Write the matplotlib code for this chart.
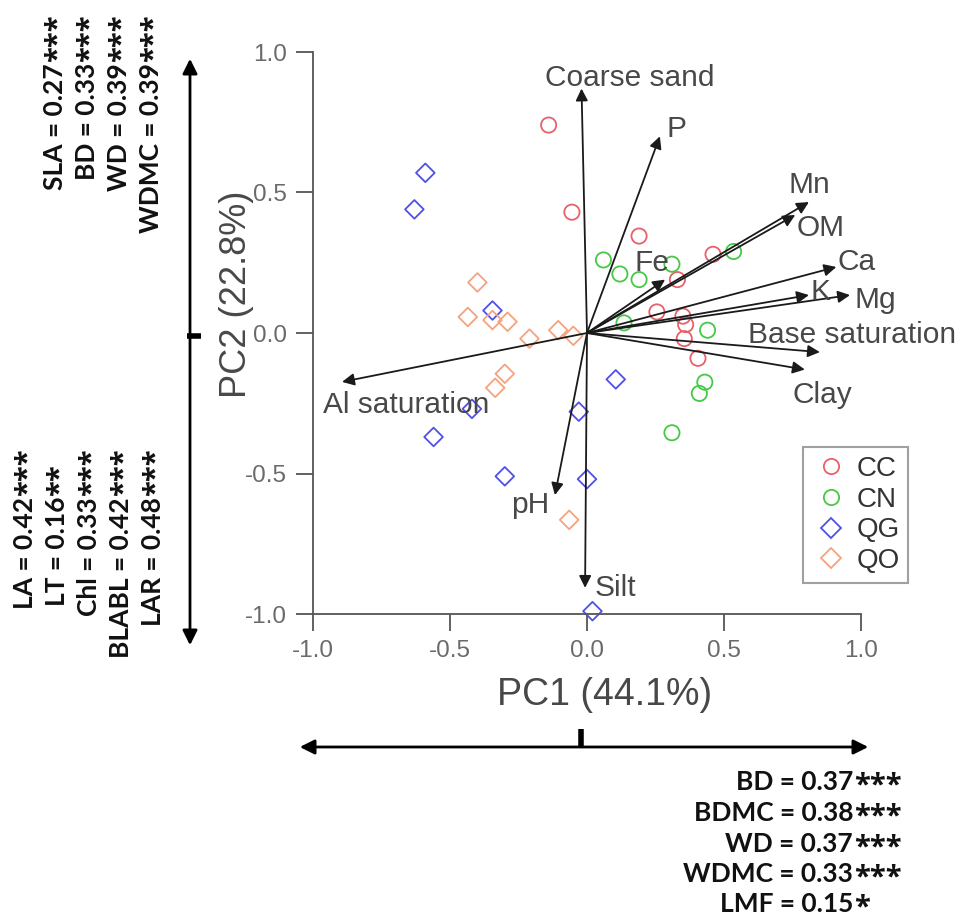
import matplotlib
matplotlib.use("Agg")
import matplotlib.pyplot as plt
from matplotlib.lines import Line2D
from matplotlib.patches import FancyArrowPatch

# ---------------- data ----------------
groups = ["CC", "CN", "QG", "QO"]
cc_x = [-0.14, -0.055, 0.19, 0.46, 0.33, 0.255, 0.35, 0.36, 0.355, 0.405]
cc_y = [0.74, 0.43, 0.345, 0.28, 0.19, 0.075, 0.06, 0.03, -0.02, -0.09]
cn_x = [0.06, 0.12, 0.19, 0.31, 0.535, 0.135, 0.44, 0.43, 0.41, 0.31]
cn_y = [0.26, 0.21, 0.19, 0.245, 0.29, 0.036, 0.01, -0.175, -0.215, -0.355]
qg_x = [-0.59, -0.63, -0.345, 0.105, -0.03, -0.42, -0.56, -0.30, 0.0, 0.02]
qg_y = [0.57, 0.44, 0.08, -0.165, -0.28, -0.27, -0.37, -0.51, -0.52, -0.99]
qo_x = [-0.40, -0.435, -0.345, -0.29, -0.21, -0.105, -0.05, -0.30, -0.335, -0.065]
qo_y = [0.18, 0.057, 0.046, 0.04, -0.02, 0.01, -0.01, -0.145, -0.195, -0.665]

vars_names = ["Coarse sand", "P", "Mn", "OM", "Ca", "K", "Mg",
              "Base saturation", "Clay", "Al saturation", "pH", "Silt", "Fe"]
vars_x = [-0.02, 0.266, 0.81, 0.76, 0.91, 0.81, 0.96, 0.85, 0.795, -0.894, -0.117, -0.007, 0.285]
vars_y = [0.87, 0.70, 0.466, 0.42, 0.235, 0.135, 0.135, -0.068, -0.13, -0.174, -0.577, -0.907, 0.19]

pc1_label = "PC1 (44.1%)"
pc2_label = "PC2 (22.8%)"
ticks = [-1.0, -0.5, 0.0, 0.5, 1.0]

top_traits = ["SLA", "BD", "WD", "WDMC"]
top_r = [0.27, 0.33, 0.39, 0.39]
top_sig = ["***", "***", "***", "***"]

low_traits = ["LA", "LT", "Chl", "BLABL", "LAR"]
low_r = [0.42, 0.16, 0.33, 0.42, 0.48]
low_sig = ["***", "**", "***", "***", "***"]

pc1_traits = ["BD", "BDMC", "WD", "WDMC", "LMF"]
pc1_r = [0.37, 0.38, 0.37, 0.33, 0.15]
pc1_sig = ["***", "***", "***", "***", "*"]

# ---------------- layout / style ----------------
W, H = 964, 922
fig = plt.figure(figsize=(W / 100, H / 100), dpi=100)
ax = fig.add_axes([313 / W, 1 - 614 / H, (861 - 313) / W, (614 - 52) / H])

plain = ["Liberation Sans", "DejaVu Sans"]
boldf = ["Lato", "DejaVu Sans"]
starf = ["Open Sans", "DejaVu Sans"]
gray_txt = "#484848"
axis_col = "#555555"

ax.set_xlim(-1, 1)
ax.set_ylim(-1, 1)
for s in ["top", "right"]:
    ax.spines[s].set_visible(False)
for s in ["left", "bottom"]:
    ax.spines[s].set_color(axis_col)
    ax.spines[s].set_linewidth(1.3)
ax.set_xticks(ticks)
ax.set_yticks(ticks)
ax.set_xticklabels([f"{t:.1f}" for t in ticks], fontfamily=plain, fontsize=17.5, color="#6a6a6a")
ax.set_yticklabels([f"{t:.1f}" for t in ticks], fontfamily=plain, fontsize=17.5, color="#6a6a6a")
ax.tick_params(direction="out", length=12, width=1.3, color=axis_col, pad=7)
ax.patch.set_alpha(0)

colors = {"CC": "#e8606a", "CN": "#45c945", "QG": "#5050e6", "QO": "#f5a37f"}
series = {"CC": (cc_x, cc_y, "o", 120), "CN": (cn_x, cn_y, "o", 120),
          "QG": (qg_x, qg_y, "D", 90), "QO": (qo_x, qo_y, "D", 90)}

# arrows
label_offsets = {"Coarse sand": (48, 11), "P": (17, 7), "Mn": (0, 17), "OM": (25, -13),
                 "Ca": (20, 5), "K": (12, 3), "Mg": (25, -5), "Base saturation": (32, 17),
                 "Clay": (18, -25), "Al saturation": (64, -23), "pH": (-25, -10),
                 "Silt": (30, 0), "Fe": (-13, 17)}
for name, vx, vy in zip(vars_names, vars_x, vars_y):
    ax.annotate("", xy=(vx, vy), xytext=(0, 0),
                arrowprops=dict(arrowstyle="-|>", color="#1a1a1a", lw=1.3,
                                shrinkA=0, shrinkB=0, mutation_scale=18),
                annotation_clip=False, zorder=3)
    ox, oy = label_offsets[name]
    ax.annotate(name, xy=(vx, vy), xytext=(ox, oy), textcoords="offset pixels",
                ha="center", va="center", fontfamily=plain, fontsize=21.5,
                color=gray_txt, annotation_clip=False, zorder=4)

for g in groups:
    xs, ys, m, s = series[g]
    ax.scatter(xs, ys, marker=m, s=s, facecolors="none", edgecolors=colors[g],
               linewidths=1.3, clip_on=False, zorder=2)

handles = [Line2D([], [], ls="none", marker=series[g][2], markersize=11 if series[g][2] == "o" else 10,
                  markerfacecolor="none", markeredgecolor=colors[g], markeredgewidth=1.3)
           for g in groups]
leg = ax.legend(handles, groups, loc="upper left", bbox_to_anchor=(803 / W, 1 - 447 / H),
                bbox_transform=fig.transFigure, frameon=True, fancybox=False,
                prop={"family": plain, "size": 20}, handletextpad=0.2, labelspacing=0.17,
                borderpad=0.32, handlelength=1.4, borderaxespad=0)
leg.get_frame().set_edgecolor("#888888")
leg.get_frame().set_linewidth(1.5)
for t in leg.get_texts():
    t.set_color("#333333")

# axis titles
fig.text(605 / W, 1 - 695 / H, pc1_label, ha="center", va="center", fontfamily=plain,
         fontsize=27, color=gray_txt)
fig.text(236 / W, 1 - 294 / H, pc2_label, ha="center", va="center", rotation=90,
         fontfamily=plain, fontsize=26, color=gray_txt)


def P(x, y):
    return (x / W, 1 - y / H)


# big arrows
fig.add_artist(FancyArrowPatch(P(297, 747), P(871, 747), transform=fig.transFigure,
               arrowstyle="<|-|>", mutation_scale=22, lw=2, color="black"))
fig.add_artist(Line2D([581 / W, 581 / W], [1 - 729 / H, 1 - 747 / H], transform=fig.transFigure,
                      color="black", lw=4, solid_capstyle="butt"))
fig.add_artist(FancyArrowPatch(P(190, 648), P(190, 56), transform=fig.transFigure,
               arrowstyle="<|-|>", mutation_scale=22, lw=2, color="black"))
fig.add_artist(Line2D([187 / W, 201 / W], [1 - 336 / H, 1 - 336 / H], transform=fig.transFigure,
                      color="black", lw=4, solid_capstyle="butt"))

tfs = 19
sfs = 21
sdrop = 3
tcol = "#111111"

# PC1 correlations (bottom right)
row_base = [790, 821, 852, 882, 912]
for name, r, sig, y in zip(pc1_traits, pc1_r, pc1_sig, row_base):
    fig.text(*P(853, y), f"{name} = {r:.2f}", ha="right", va="baseline", fontfamily=boldf,
             fontweight="bold", fontsize=tfs, color=tcol)
    fig.text(*P(854, y + sdrop), sig, ha="left", va="baseline", fontfamily=starf,
             fontweight="bold", fontsize=sfs, color=tcol)

# PC2 correlations (left, rotated)
top_base = [63, 95, 127, 159]
for name, r, sig, x in zip(top_traits, top_r, top_sig, top_base):
    fig.text(*P(x, 63), f"{name} = {r:.2f}", ha="right", va="baseline", rotation=90,
             rotation_mode="anchor", fontfamily=boldf, fontweight="bold", fontsize=tfs, color=tcol)
    fig.text(*P(x + sdrop, 62), sig, ha="left", va="baseline", rotation=90,
             rotation_mode="anchor", fontfamily=starf, fontweight="bold", fontsize=sfs, color=tcol)

low_base = [33, 65, 97, 129, 161]
for name, r, sig, x in zip(low_traits, low_r, low_sig, low_base):
    fig.text(*P(x, 497), f"{name} = {r:.2f}", ha="right", va="baseline", rotation=90,
             rotation_mode="anchor", fontfamily=boldf, fontweight="bold", fontsize=tfs, color=tcol)
    fig.text(*P(x + sdrop, 496), sig, ha="left", va="baseline", rotation=90,
             rotation_mode="anchor", fontfamily=starf, fontweight="bold", fontsize=sfs, color=tcol)

fig.savefig("out.png", dpi=100)
